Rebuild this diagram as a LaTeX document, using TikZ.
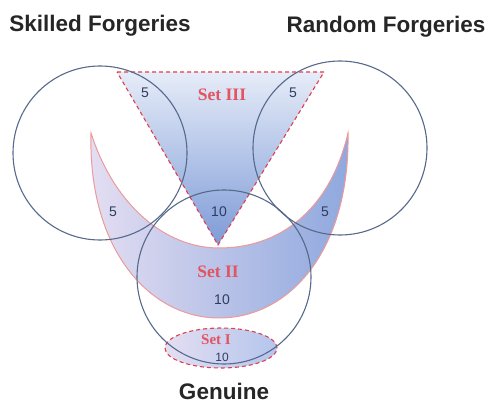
\documentclass[tikz,border=0pt]{standalone}
\usepackage{fontspec}
\setmainfont{Liberation Sans}
\newfontfamily\setfont{Liberation Serif}
\usetikzlibrary{shapes, positioning}
\definecolor{ringblue}{HTML}{56698B}
\definecolor{setred}{HTML}{E0404E}
\definecolor{lightred}{HTML}{EC9A9A}
\definecolor{numblue}{HTML}{2E3D60}
\definecolor{palelilac}{HTML}{E4DEF2}
\definecolor{midblue}{HTML}{8FA8DE}
\definecolor{paleblue}{HTML}{E6ECF8}
\definecolor{deepblue}{HTML}{7E9BD7}
\definecolor{softblue}{HTML}{B4C5EC}
\tikzset{
    ring/.style = {circle, draw=ringblue, line width=1.1pt, minimum size=174pt, inner sep=0pt},
    headlabel/.style = {font=\fontsize{22.5}{24}\selectfont\bfseries, text=black!85},
    setlabel/.style = {font=\setfont\fontsize{17.5}{18}\selectfont\bfseries, text=setred!90},
    numlabel/.style = {font=\fontsize{14}{14}\selectfont, text=numblue},
    border/.style = {draw=setred, line width=1.1pt, dash pattern=on 4pt off 3pt}
}
\begin{document}
\begin{tikzpicture}[x=1pt, y=-1pt]
    \useasboundingbox (0,0) rectangle (489,403);

    % Set II (crescent)
    \shadedraw [left color=palelilac, right color=midblue, draw=lightred, line width=1pt]
        (91,133) .. controls (88,250) and (150,318) .. (219,318)
        .. controls (290,318) and (350,250) .. (348,133)
        .. controls (330,210) and (280,248) .. (219,248)
        .. controls (165,248) and (114,205) .. cycle;

    % Set III (triangle)
    \shadedraw [top color=paleblue, bottom color=deepblue, border] (117,72) -- (324,72) -- (218,245) -- cycle;

    % Set I (ellipse)
    \shadedraw [left color=palelilac, right color=softblue, border] (221,348) ellipse [x radius=56pt, y radius=20pt];

    % Circles
    \node [ring] (skilled) at (100,153) {};
    \node [ring] (random) at (340,148) {};
    \node [ring] (genuine) at (224,277) {};

    % Titles
    \node [headlabel] (skilledlbl) at (100,26) {Skilled Forgeries};
    \node [headlabel] (randomlbl) at (386,27) {Random Forgeries};
    \node [headlabel, inner sep=1pt] (genuinelbl) at (224,391) {Genuine};

    % Set names
    \node [setlabel] (set3) at (222,95) {Set III};
    \node [setlabel] (set2) at (218,272) {Set II};
    \node [setlabel, font=\setfont\fontsize{15}{15}\selectfont\bfseries, inner sep=0pt] (set1) at (216,340) {Set I};

    % Counts
    \node [numlabel] (n1) at (145,93) {5};
    \node [numlabel] (n2) at (293,93) {5};
    \node [numlabel] (n3) at (113,212) {5};
    \node [numlabel] (n4) at (325,212) {5};
    \node [numlabel] (n5) at (219,212) {10};
    \node [numlabel] (n6) at (222,300) {10};
    \node [numlabel, font=\fontsize{12}{12}\selectfont, inner sep=0pt] (n7) at (222,357) {10};
\end{tikzpicture}
\end{document}
